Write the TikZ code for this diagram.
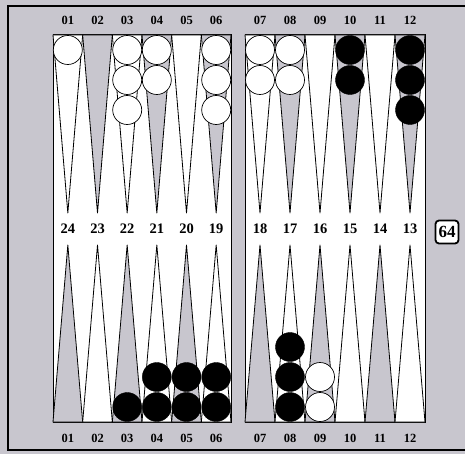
\documentclass[tikz,border=0pt]{standalone}
\usepackage{fontspec}
\setmainfont{Liberation Serif}
\definecolor{boardgray}{RGB}{200,198,206}
\tikzset{
  pip/.style={draw=black, line width=0.8pt, line join=round},
  whitechk/.style={circle, draw=black, fill=white, line width=0.7pt, minimum size=29pt, inner sep=0pt},
  blackchk/.style={circle, draw=black, fill=black, minimum size=29pt, inner sep=0pt},
  numlbl/.style={font=\bfseries\fontsize{12.5}{12.5}\selectfont, inner sep=0pt},
  midlbl/.style={font=\bfseries\fontsize{14.5}{14.5}\selectfont, inner sep=0pt},
}
\begin{document}
\begin{tikzpicture}[x=1pt,y=-1pt]
  \useasboundingbox (0,0) rectangle (465,454);
  \fill[boardgray] (0,0) rectangle (465,454);
  \draw[line width=1.4pt] (470,6) -- (8,6) -- (8,450) -- (470,450);

  % the two halves of the board
  \draw[fill=white, line width=1pt] (53,35) rectangle (231,422);
  \draw[fill=white, line width=1pt] (245,35) rectangle (425,422);

  % points
  \foreach \hx/\hw in {53/29.667, 245/30} {
    \foreach \i in {0,...,5} {
      \pgfmathsetmacro{\xa}{\hx+\i*\hw}
      \pgfmathsetmacro{\xm}{\hx+(\i+0.5)*\hw}
      \pgfmathsetmacro{\xb}{\hx+(\i+1)*\hw}
      \ifodd\i
        \draw[pip, fill=boardgray] (\xa,35) -- (\xm,213) -- (\xb,35) -- cycle;
        \draw[pip, fill=white] (\xa,422) -- (\xm,245) -- (\xb,422) -- cycle;
      \else
        \draw[pip, fill=white] (\xa,35) -- (\xm,213) -- (\xb,35) -- cycle;
        \draw[pip, fill=boardgray] (\xa,422) -- (\xm,245) -- (\xb,422) -- cycle;
      \fi
    }
  }

  % point numbers
  \foreach \n/\x/\m in {1/67.8/24, 2/97.5/23, 3/127.2/22, 4/156.8/21, 5/186.5/20, 6/216.2/19,
                        7/260/18, 8/290/17, 9/320/16, 10/350/15, 11/380/14, 12/410/13} {
    \node[numlbl] (top\n) at (\x,20) {\ifnum\n<10 0\fi\n};
    \node[numlbl] (bot\n) at (\x,438) {\ifnum\n<10 0\fi\n};
    \node[midlbl, fill=white, inner sep=1pt] (mid\m) at (\x,229) {\m};
  }

  % checkers on the upper points
  \foreach \x/\c/\s in {67.8/1/whitechk, 127.2/3/whitechk, 156.8/2/whitechk, 216.2/3/whitechk,
                        260/2/whitechk, 290/2/whitechk, 350/2/blackchk, 410/3/blackchk} {
    \foreach \k in {1,...,\c}
      \node[\s] (up-\x-\k) at (\x,20+\k*30) {};
  }

  % checkers on the lower points
  \foreach \x/\c/\s in {127.2/1/blackchk, 156.8/2/blackchk, 186.5/2/blackchk, 216.2/2/blackchk,
                        290/3/blackchk, 320/2/whitechk} {
    \foreach \k in {1,...,\c}
      \node[\s] (lo-\x-\k) at (\x,437-\k*30) {};
  }

  % doubling cube
  \node[draw, line width=1.8pt, rounded corners=3.5pt, fill=white, minimum width=23pt,
        minimum height=23pt, inner sep=1pt, font=\bfseries\fontsize{17}{17}\selectfont]
        (cube) at (447,232) {64};
\end{tikzpicture}
\end{document}
